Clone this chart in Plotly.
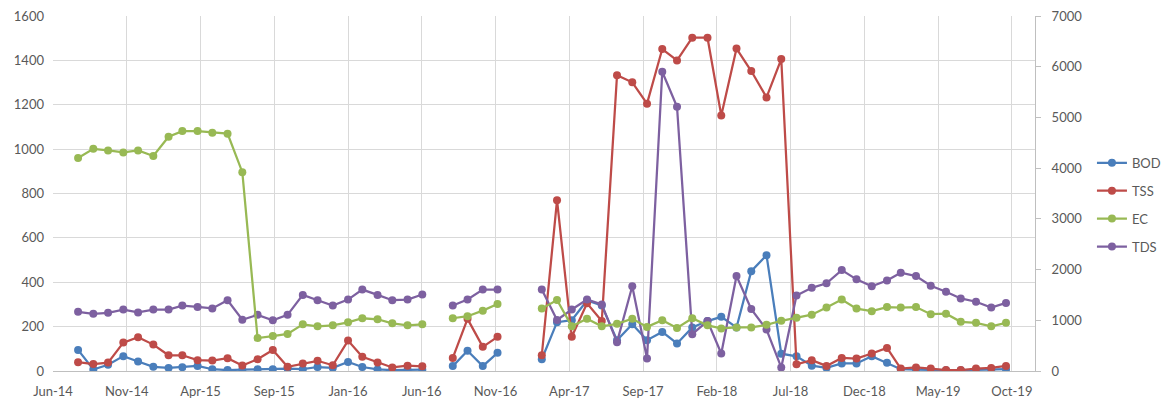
import pandas as pd
import plotly.graph_objects as go

# Monthly sampling dates (month ends), Jul 2014 .. Sep 2019
dates = pd.date_range("2014-07-31", "2019-09-30", freq="ME")

# Left axis series
BOD = [95, 7, 28, 67, 43, 19, 14, 17, 23, 8, 4, 6, 8, 8, 11, 8, 18, 14, 41, 18, 7, 4, 5, 6,
       None, 22, 91, 22, 82, None, None,
       53, 220, 229, 318, 295, 139, 211, 139, 176, 124, 196, 225, 244, 196, 450, 522, 78, 66,
       24, 14, 34, 34, 67, 37, 8, 6, 5, 3, 3, 5, 6, 8]
TSS = [40, 31, 38, 128, 152, 119, 71, 71, 49, 47, 58, 25, 53, 95, 19, 34, 46, 26, 137, 64, 38, 16, 24, 21,
       None, 59, 235, 109, 154, None, None,
       71, 770, 154, 305, 225, 1333, 1301, 1205, 1451, 1400, 1502, 1502, 1152, 1453, 1352, 1233, 1406, 30,
       49, 23, 59, 56, 79, 104, 11, 16, 11, 4, 4, 11, 14, 23]
TDS = [267, 258, 262, 277, 264, 277, 277, 295, 289, 282, 319, 231, 253, 229, 253, 343, 319, 295, 322, 367, 343, 319, 322, 345,
       None, 295, 322, 367, 367, None, None,
       367, 230, 277, 322, 300, 130, 382, 56, 1349, 1191, 166, 225, 79, 428, 279, 187, 16, 340,
       375, 395, 455, 413, 382, 408, 443, 428, 384, 357, 327, 312, 286, 307]
# Right (secondary) axis series
EC = [4200, 4380, 4350, 4310, 4350, 4240, 4620, 4730, 4730, 4700, 4680, 3920, 650, 690, 730, 920, 880, 900, 960, 1040, 1020, 940, 900, 920,
      None, 1040, 1080, 1190, 1320, None, None,
      1230, 1400, 880, 1030, 880, 930, 1030, 870, 1000, 850, 1040, 900, 840, 860, 860, 910, 990, 1050,
      1110, 1250, 1410, 1230, 1180, 1260, 1250, 1260, 1120, 1130, 970, 950, 880, 950]

tick_labels = ["Jun-14", "Nov-14", "Apr-15", "Sep-15", "Jan-16", "Jun-16", "Nov-16",
               "Apr-17", "Sep-17", "Feb-18", "Jul-18", "Dec-18", "May-19", "Oct-19"]

x_start = pd.Timestamp("2014-06-10")
x_end = x_start + pd.Timedelta(days=1997)
tick_vals = [x_start + pd.Timedelta(days=150 * k) for k in range(len(tick_labels))]

FONT = "Lato"
TXT = "#595959"
GRID = "#d9d9d9"

series = [
    ("BOD", BOD, "#4A7EBB", "y"),
    ("TSS", TSS, "#BE4B48", "y"),
    ("EC", EC, "#98B954", "y2"),
    ("TDS", TDS, "#7D60A0", "y"),
]

fig = go.Figure()
for name, vals, col, ax in series:
    fig.add_trace(go.Scatter(
        x=dates, y=vals, name=name, mode="lines+markers", yaxis=ax,
        legendgroup=name, connectgaps=False,
        line=dict(color=col, width=2.25),
        marker=dict(color=col, size=8, symbol="circle"),
    ))

fig.update_layout(
    width=1166, height=400,
    margin=dict(l=53, r=131, t=16, b=29, autoexpand=False),
    paper_bgcolor="white", plot_bgcolor="white",
    font=dict(family=FONT, size=13, color=TXT),
    showlegend=True,
    legend=dict(x=1.058, xanchor="left", y=0.468, yanchor="middle",
                traceorder="grouped", tracegroupgap=8,
                font=dict(family=FONT, size=13, color=TXT),
                bgcolor="rgba(0,0,0,0)"),
    xaxis=dict(type="date", range=[x_start, x_end], tickvals=tick_vals, ticktext=tick_labels,
               showgrid=True, gridcolor=GRID, gridwidth=1, zeroline=False,
               showline=True, linecolor="#bfbfbf", linewidth=1, ticks="",
               ticklabelstandoff=8, tickfont=dict(family=FONT, size=13, color=TXT),
               automargin=False),
    yaxis=dict(range=[0, 1600], dtick=200, tick0=0, showgrid=True, gridcolor=GRID, gridwidth=1,
               zeroline=False, showline=False, ticks="", ticklabelstandoff=8,
               tickfont=dict(family=FONT, size=13, color=TXT), automargin=False),
    yaxis2=dict(range=[0, 7000], dtick=1000, tick0=0, overlaying="y", side="right",
                showgrid=False, zeroline=False, showline=True, linecolor="#bfbfbf", linewidth=1,
                ticks="outside", ticklen=5, tickcolor="#bfbfbf", ticklabelstandoff=8,
                tickfont=dict(family=FONT, size=13, color=TXT), automargin=False),
)

fig.write_html("out.html")
